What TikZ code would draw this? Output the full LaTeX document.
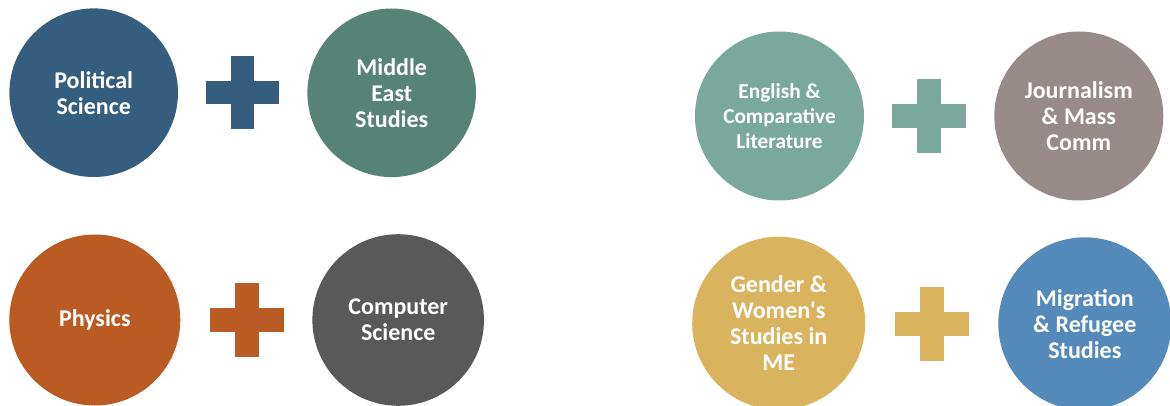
\documentclass[tikz,border=0pt]{standalone}
\usepackage{fontspec}
\setmainfont{Carlito}
\newfontfamily\carlitoraw{Carlito}[Ligatures=TeXOff]
\definecolor{cpol}{RGB}{53,93,126}
\definecolor{cmid}{RGB}{87,131,118}
\definecolor{ceng}{RGB}{122,168,156}
\definecolor{cjou}{RGB}{151,139,137}
\definecolor{cphy}{RGB}{187,91,36}
\definecolor{ccs}{RGB}{89,89,89}
\definecolor{cgen}{RGB}{217,179,94}
\definecolor{cmig}{RGB}{84,138,186}
\tikzset{
  disc/.style={circle, inner sep=0pt, minimum size=#1, text=white, align=center,
    font=\bfseries\fontsize{24pt}{26pt}\selectfont},
  smalltext/.style={font=\bfseries\fontsize{21.3pt}{25pt}\selectfont},
  plussign/.pic={
    \fill (-37,-12) rectangle (37,12);
    \fill (-12,-37) rectangle (12,37);
  }
}
\begin{document}
\begin{tikzpicture}[x=1pt,y=-1pt]
\useasboundingbox (0,0) rectangle (1170,406);
% top left
\node[disc=168.6pt, fill=cpol] (pol) at (93.7,92.7) {Political\\Science};
\pic[fill=cpol, scale=0.98] (plusA) at (242.5,92.7) {plussign};
\node[disc=168.6pt, fill=cmid] (mid) at (391.7,92.8) {Middle\\East\\Studies};
% top right
\node[disc=169pt, fill=ceng, smalltext] (eng) at (779.5,116) {English \&\\Comparative\\Literature};
\pic[fill=ceng] (plusB) at (929,116) {plussign};
\node[disc=169pt, fill=cjou] (jou) at (1078.8,116) {Journalism\\\& Mass\\Comm};
% bottom left
\node[disc=171pt, fill=cphy] (phy) at (94.8,320) {Physics};
\pic[fill=cphy] (plusC) at (246.5,320) {plussign};
\node[disc=171.6pt, fill=ccs] (cs) at (398.2,320) {Computer\\Science};
% bottom right
\node[disc=173pt, fill=cgen] (gen) at (778.7,323.2) {Gender \&\\Women{\carlitoraw '}s\\Studies in\\ME};
\pic[fill=cgen] (plusD) at (932,324) {plussign};
\node[disc=173pt, fill=cmig] (mig) at (1084.8,323.8) {Migration\\\& Refugee\\Studies};
\end{tikzpicture}
\end{document}
